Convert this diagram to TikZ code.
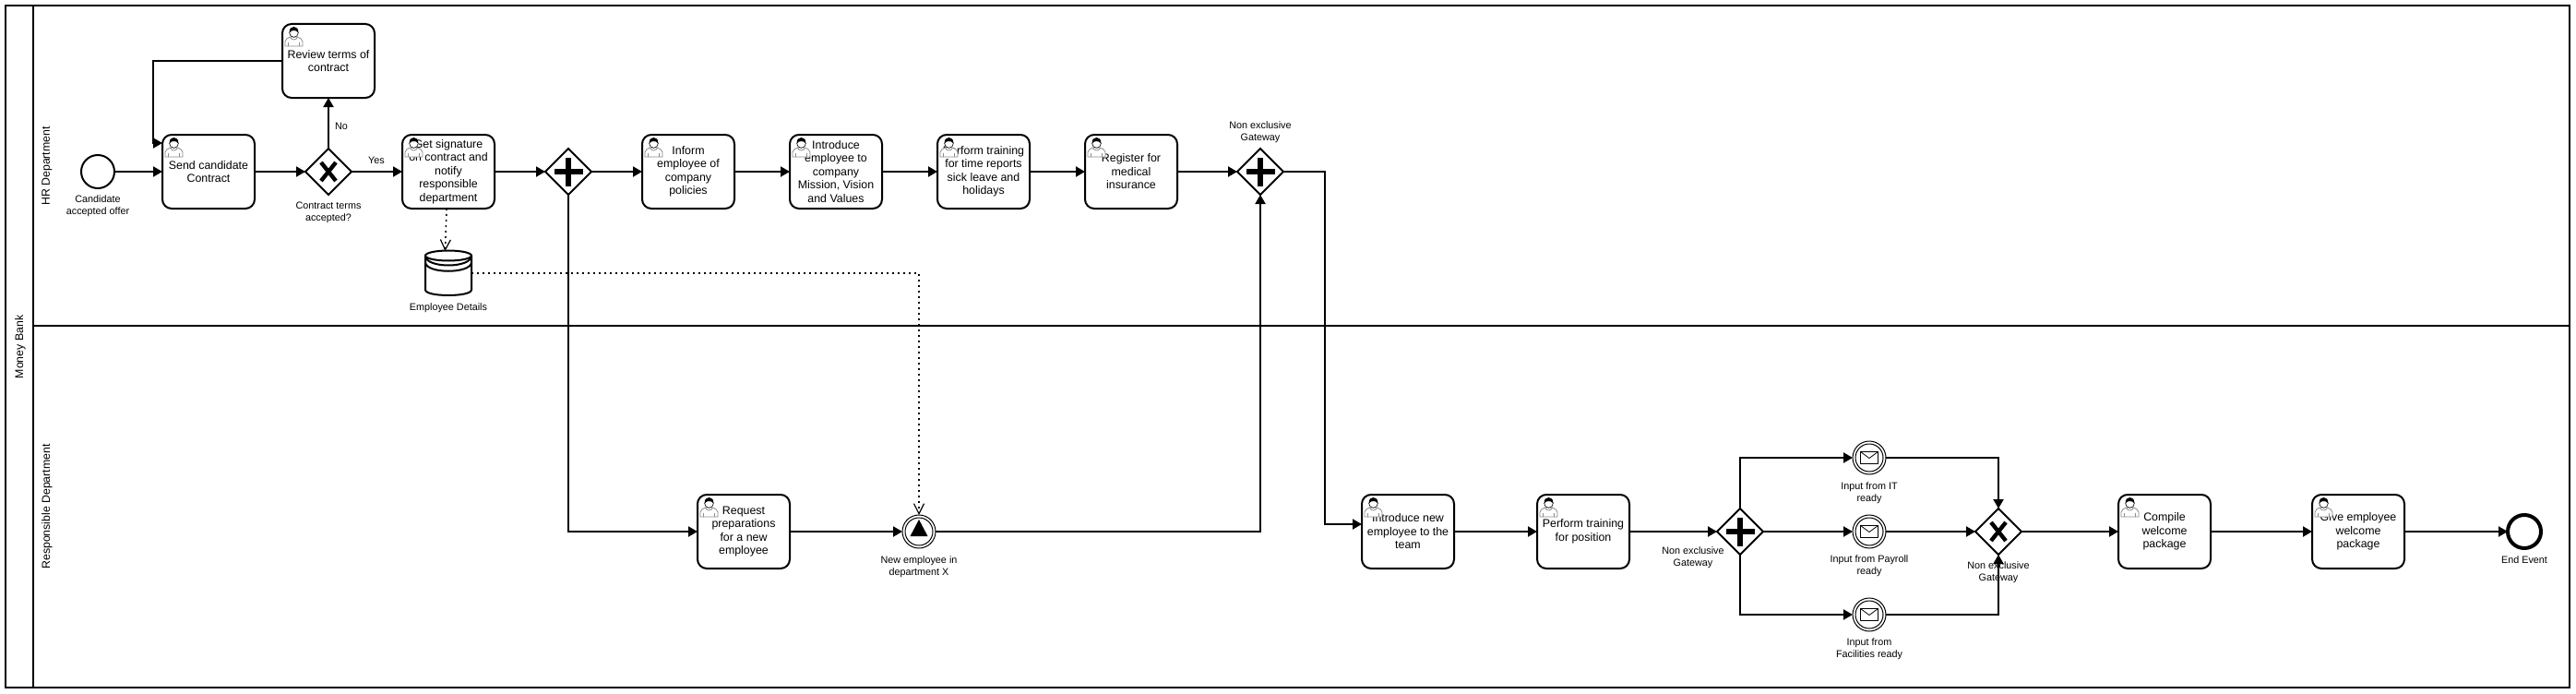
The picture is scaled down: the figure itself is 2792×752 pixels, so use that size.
\documentclass[tikz,border=0pt]{standalone}
\usepackage{fontspec}
\setmainfont{Liberation Sans}
\usetikzlibrary{arrows.meta,shapes.geometric}
\tikzset{
  x=1pt,y=-1pt,
  task/.style={draw=black,fill=white,line width=2pt,rounded corners=10pt,minimum width=100pt,minimum height=80pt,inner sep=0pt,outer sep=0pt,align=center,font=\fontsize{12.4}{14.5}\selectfont},
  gate/.style={draw=black,fill=white,line width=2pt,diamond,aspect=1,minimum width=50pt,minimum height=50pt,inner sep=0pt,outer sep=0pt},
  evstart/.style={draw=black,fill=white,line width=2pt,circle,minimum size=36pt,inner sep=0pt,outer sep=0pt},
  evend/.style={draw=black,fill=white,line width=4pt,circle,minimum size=36pt,inner sep=0pt,outer sep=0pt},
  evmid/.style={draw=black,fill=white,line width=1pt,circle,minimum size=36pt,inner sep=0pt,outer sep=0pt},
  lab/.style={align=center,inner sep=0pt,font=\fontsize{10.8}{13}\selectfont},
  lane/.style={rotate=90,inner sep=0pt,font=\fontsize{12.3}{14}\selectfont},
  frame/.style={draw=black,line width=2.5pt},
  flow/.style={draw=black,line width=2pt,line join=miter,-{Triangle[length=10pt,width=11pt]}},
  assoc/.style={draw=black,line width=1.5pt,dash pattern=on 2pt off 4pt,-{Straight Barb[length=11pt,width=11pt,line width=1.2pt]}},
  usericon/.pic={
    \draw[fill=white,draw=black!45,line width=0.8pt] (3,24) -- (3,19) .. controls (3,16) and (6,15.5) .. (8.5,14) -- (16.5,14) .. controls (19,15.5) and (22,16) .. (22,19) -- (22,24) -- cycle;
    \draw[draw=black!45,line width=0.8pt] (6.5,20) -- (6.5,24) (18.5,20) -- (18.5,24) (8.5,14) .. controls (9.5,18) and (15.5,18) .. (16.5,14);
    \draw[fill=white,draw=black,line width=0.6pt] (12.5,9.5) circle[radius=4.8];
    \fill[black] (7.7,9.5) .. controls (7.5,5) and (9.5,3) .. (12.5,3) .. controls (15.5,3) and (17.5,5) .. (17.3,9.5) .. controls (16,7.5) and (14,7) .. (12.5,7) .. controls (11,7) and (9,7.5) .. (7.7,9.5) -- cycle;
  },
  plussym/.pic={
    \fill[black] (-15.5,-3.4) rectangle (15.5,3.4);
    \fill[black] (-3.4,-15.5) rectangle (3.4,15.5);
  },
  xsym/.pic={
    \draw[black,line width=4.4pt] (-8,-10) -- (8,10) (8,-10) -- (-8,10);
  },
  mailsym/.pic={
    \draw[black,line width=0.8pt,line join=round] (-9.5,-6.5) rectangle (9.5,6.5);
    \draw[black,line width=0.8pt,line join=round] (-9.5,-6.5) -- (0,0.5) -- (9.5,-6.5);
    \draw[black,line width=1pt] (0,0) circle[radius=15];
  },
  trisym/.pic={
    \fill[black] (0,-13) -- (9.5,5) -- (-9.5,5) -- cycle;
    \draw[black,line width=1pt] (0,0) circle[radius=15];
  },
  storesym/.pic={
    \draw[black,line width=2pt,fill=white] (-25,-19) -- (-25,18) .. controls (-25,26) and (25,26) .. (25,18) -- (25,-19);
    \draw[black,line width=2pt,fill=white] (0,-19) ellipse[x radius=25,y radius=5.5];
    \draw[black,line width=2pt] (-25,-19) .. controls (-25,-5) and (25,-5) .. (25,-19);
    \draw[black,line width=2pt] (-25,-12) .. controls (-25,1) and (25,1) .. (25,-12);
  },
}
\begin{document}
\begin{tikzpicture}
\useasboundingbox (0,0) rectangle (2792,752);
\fill[white] (0,0) rectangle (2792,752);
% pool and lanes
\draw[frame] (6,6) rectangle (2785,745);
\draw[frame] (36,6) -- (36,745);
\draw[frame] (36,353) -- (2785,353);
\node[lane] (lpool) at (22,376) {Money Bank};
\node[lane] (lhr) at (51,180) {HR Department};
\node[lane] (lresp) at (51,549) {Responsible Department};
% HR lane
\node[evstart] (start) at (106,186) {};
\node[task] (send) at (226,186) {Send candidate\\Contract};
\node[task] (review) at (356,66) {Review terms of\\contract};
\node[gate] (gx) at (356,186) {};
\node[task] (sign) at (486,186) {Get signature\\on contract and\\notify\\responsible\\department};
\node[gate] (gp) at (616,186) {};
\node[task] (inform) at (746,186) {Inform\\employee of\\company\\policies};
\node[task] (intro) at (906,186) {Introduce\\employee to\\company\\Mission, Vision\\and Values};
\node[task] (time) at (1066,186) {Perform training\\for time reports\\sick leave and\\holidays};
\node[task] (medical) at (1226,186) {Register for\\medical\\insurance};
\node[gate] (gn) at (1366,186) {};
\node[minimum width=50pt,minimum height=48pt,inner sep=0pt,outer sep=0pt] (store) at (486,296) {};
% Responsible lane
\node[task] (request) at (806,576) {Request\\preparations\\for a new\\employee};
\node[evmid] (newemp) at (996,576) {};
\node[task] (team) at (1526,576) {Introduce new\\employee to the\\team};
\node[task] (position) at (1716,576) {Perform training\\for position};
\node[gate] (gq) at (1886,576) {};
\node[evmid] (mit) at (2026,496) {};
\node[evmid] (mpay) at (2026,576) {};
\node[evmid] (mfac) at (2026,666) {};
\node[gate] (gy) at (2166,576) {};
\node[task] (compile) at (2346,576) {Compile\\welcome\\package};
\node[task] (give) at (2556,576) {Give employee\\welcome\\package};
\node[evend] (finish) at (2736,576) {};
% labels
\node[lab] (l1) at (106,223.5) {Candidate\\accepted offer};
\node[lab] (l2) at (356,230.5) {Contract terms\\accepted?};
\node[lab] (l3) at (370,137) {No};
\node[lab] (l4) at (408,174) {Yes};
\node[lab] (l5) at (486,334) {Employee Details};
\node[lab] (l6) at (1366,143.5) {Non exclusive\\Gateway};
\node[lab] (l7) at (996,614) {New employee in\\department X};
\node[lab] (l8) at (1835,604.5) {Non exclusive\\Gateway};
\node[lab] (l9) at (2026,534) {Input from IT\\ready};
\node[lab] (l10) at (2026,613.5) {Input from Payroll\\ready};
\node[lab] (l11) at (2026,703.5) {Input from\\Facilities ready};
\node[lab] (l12) at (2166,620.5) {Non exclusive\\Gateway};
\node[lab] (l13) at (2736,607) {End Event};
% bend points
\coordinate (b1) at (166,66);
\coordinate (b2) at (1436,186);
% sequence flows
\draw[flow] (start) -- (send);
\draw[flow] (send) -- (gx);
\draw[flow] (gx) -- (review);
\draw[flow] (gx) -- (sign);
\draw[flow] (review.west) -- (b1) |- ([yshift=31pt]send.west);
\draw[flow] (sign) -- (gp);
\draw[flow] (gp) -- (inform);
\draw[flow] (inform) -- (intro);
\draw[flow] (intro) -- (time);
\draw[flow] (time) -- (medical);
\draw[flow] (medical) -- (gn);
\draw[flow] (gp.south) |- (request.west);
\draw[flow] (request) -- (newemp);
\draw[flow] (newemp.east) -| (gn.south);
\draw[flow] (gn.east) -- (b2) |- ([yshift=8pt]team.west);
\draw[flow] (team) -- (position);
\draw[flow] (position) -- (gq);
\draw[flow] (gq.north) |- (mit.west);
\draw[flow] (gq) -- (mpay);
\draw[flow] (gq.south) |- (mfac.west);
\draw[flow] (mit.east) -| (gy.north);
\draw[flow] (mpay) -- (gy);
\draw[flow] (mfac.east) -| (gy.south);
\draw[flow] (gy) -- (compile);
\draw[flow] (compile) -- (give);
\draw[flow] (give) -- (finish);
% data associations
\draw[assoc] ([xshift=-2pt]sign.south) -- ([xshift=-3.5pt]store.north);
\draw[assoc] (store.east) -| (newemp.north);
% symbols
\pic at (store) {storesym};
\pic at (gx) {xsym};
\pic at (gy) {xsym};
\pic at (gp) {plussym};
\pic at (gn) {plussym};
\pic at (gq) {plussym};
\pic at (newemp) {trisym};
\pic at (mit) {mailsym};
\pic at (mpay) {mailsym};
\pic at (mfac) {mailsym};
% user icons, over the task text
\pic at (send.north west) {usericon};
\pic at (review.north west) {usericon};
\pic at (sign.north west) {usericon};
\pic at (inform.north west) {usericon};
\pic at (intro.north west) {usericon};
\pic at (time.north west) {usericon};
\pic at (medical.north west) {usericon};
\pic at (request.north west) {usericon};
\pic at (team.north west) {usericon};
\pic at (position.north west) {usericon};
\pic at (compile.north west) {usericon};
\pic at (give.north west) {usericon};
\end{tikzpicture}
\end{document}
